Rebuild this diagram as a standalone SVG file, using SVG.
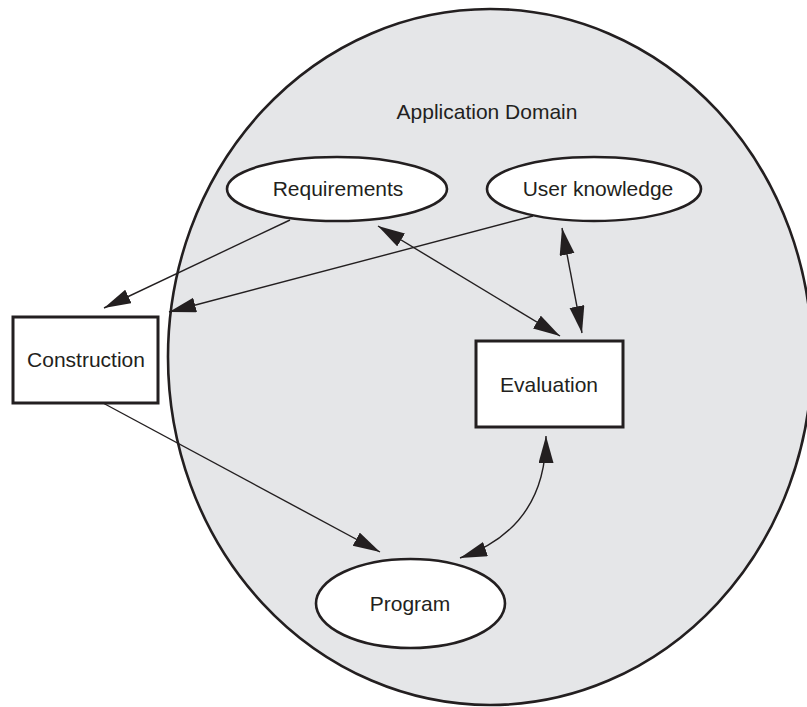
<svg xmlns="http://www.w3.org/2000/svg" width="807" height="707" viewBox="0 0 807 707">
  <defs>
    <style>
      .domain { fill: #e5e6e8; stroke: #231f20; stroke-width: 2.6; }
      .node { fill: #ffffff; stroke: #231f20; stroke-width: 2.6; }
      .box { fill: #ffffff; stroke: #231f20; stroke-width: 3; }
      .label { font-family: "Liberation Sans", Arial, sans-serif; font-size: 21px; fill: #231f20; text-anchor: middle; }
      .edge { fill: none; stroke: #231f20; stroke-width: 1.4; }
    </style>
    <marker id="arrow" markerUnits="userSpaceOnUse" markerWidth="28" markerHeight="16" refX="27" refY="7.5" orient="auto-start-reverse" viewBox="0 0 28 16">
      <path d="M0,0 L27,7.5 L0,15 z" fill="#231f20"/>
    </marker>
  </defs>

  <!-- Application domain region -->
  <g id="domain">
    <ellipse class="domain" cx="490" cy="357" rx="322" ry="348"/>
    <text class="label" x="487" y="119">Application Domain</text>
  </g>

  <!-- Connectors -->
  <g id="connectors">
    <line class="edge" x1="290" y1="220" x2="104" y2="308" marker-end="url(#arrow)"/>
    <line class="edge" x1="533" y1="216" x2="169" y2="312" marker-end="url(#arrow)"/>
    <line class="edge" x1="378" y1="226" x2="560" y2="336" marker-start="url(#arrow)" marker-end="url(#arrow)"/>
    <line class="edge" x1="562" y1="228" x2="582" y2="333" marker-start="url(#arrow)" marker-end="url(#arrow)"/>
    <line class="edge" x1="103" y1="403" x2="380" y2="552" marker-end="url(#arrow)"/>
    <path class="edge" d="M546,436 Q546,528 460,558" marker-start="url(#arrow)" marker-end="url(#arrow)"/>
  </g>

  <!-- Nodes -->
  <g id="requirements">
    <ellipse class="node" cx="337" cy="189" rx="110" ry="32"/>
    <text class="label" x="338" y="196">Requirements</text>
  </g>
  <g id="user-knowledge">
    <ellipse class="node" cx="594" cy="189" rx="107" ry="32"/>
    <text class="label" x="598" y="196">User knowledge</text>
  </g>
  <g id="construction">
    <rect class="box" x="13" y="317" width="145" height="86"/>
    <text class="label" x="86" y="367">Construction</text>
  </g>
  <g id="evaluation">
    <rect class="box" x="476" y="341" width="147" height="86"/>
    <text class="label" x="549" y="392">Evaluation</text>
  </g>
  <g id="program">
    <ellipse class="node" cx="410.5" cy="603.5" rx="94.5" ry="44.5"/>
    <text class="label" x="410" y="611">Program</text>
  </g>
</svg>
